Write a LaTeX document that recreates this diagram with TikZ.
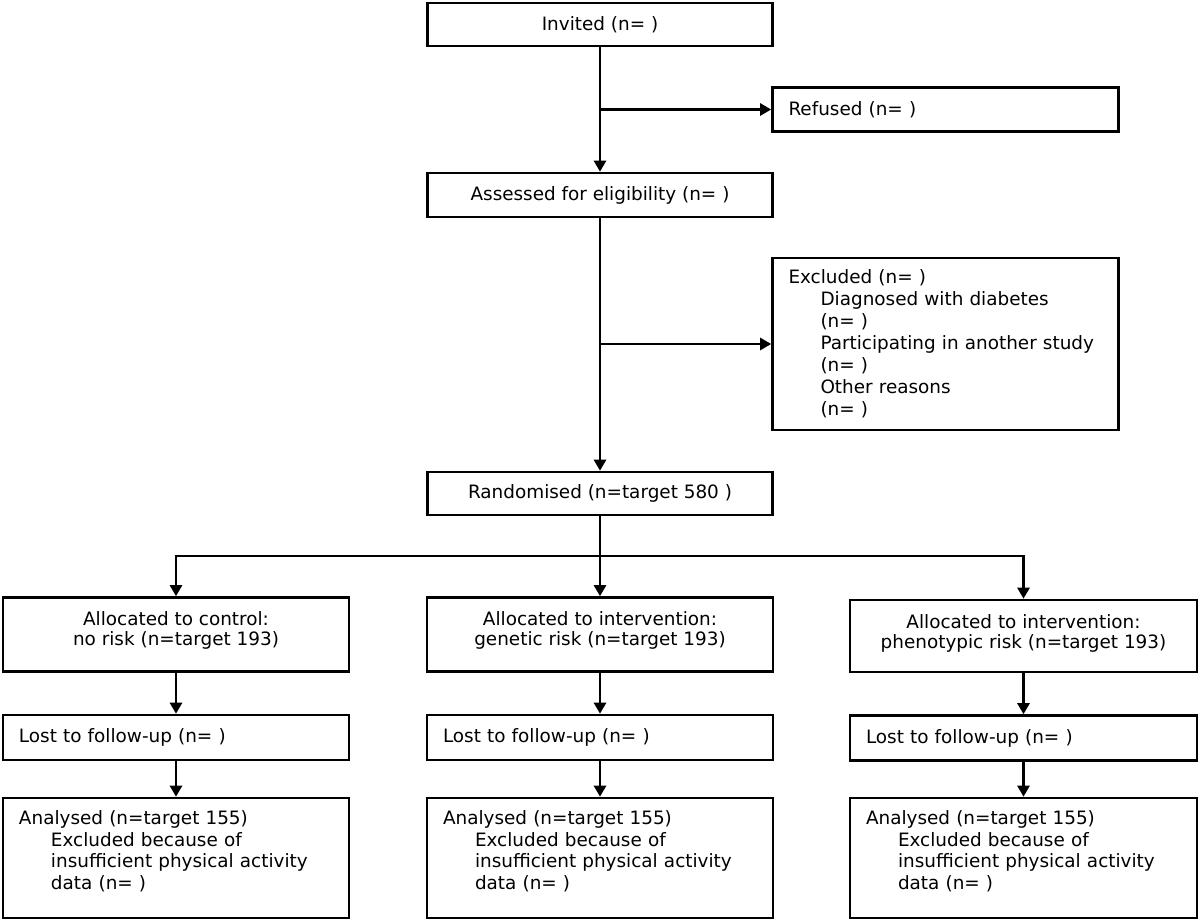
\documentclass[tikz,border=0pt]{standalone}
\usepackage{fontspec}
\setmainfont{DejaVu Sans}
\usetikzlibrary{arrows.meta}
\begin{document}
\begin{tikzpicture}[x=1pt,y=-1pt,
  box/.style={draw, line width=2.6pt, inner sep=0pt, align=center,
    font=\fontsize{18.4pt}{21.5pt}\selectfont},
  lbox/.style={box, align=left},
  conn/.style={line width=2.6pt, -{Triangle[length=11pt,width=12pt]}},
  seg/.style={line width=2.6pt}]
\useasboundingbox (0,0) rectangle (1200,921);
\newcommand{\ind}{\hspace*{32pt}}
% top column
\node[box, minimum width=345pt, minimum height=43pt] (inv) at (600,24.5) {Invited (n= )};
\node[lbox, minimum width=346pt, minimum height=44pt, text width=314pt] (ref) at (945.5,109.5) {Refused (n= )};
\node[box, minimum width=345pt, minimum height=44pt] (ass) at (600,195) {Assessed for eligibility (n= )};
\node[lbox, minimum width=346pt, minimum height=172pt, text width=314pt,
  font=\fontsize{18.4pt}{22pt}\selectfont] (exc) at (945.5,344)
  {Excluded (n= )\\ \ind Diagnosed with diabetes\\ \ind (n= )\\ \ind Participating in another study\\ \ind (n= )\\ \ind Other reasons\\ \ind (n= )};
\node[box, minimum width=345pt, minimum height=43pt] (ran) at (600,493.5) {Randomised (n=target 580 )};
% allocation
\tikzset{abox/.style={box, font=\fontsize{18.4pt}{20pt}\selectfont}}
\node[abox, minimum width=346pt, minimum height=74pt] (al1) at (176,634.5) {Allocated to control:\\ no risk (n=target 193)\\[-8pt]\mbox{}};
\node[abox, minimum width=346pt, minimum height=74pt] (al2) at (600,634.5) {Allocated to intervention:\\ genetic risk (n=target 193)\\[-8pt]\mbox{}};
\node[abox, minimum width=347pt, minimum height=72pt] (al3) at (1023.5,636) {Allocated to intervention:\\ phenotypic risk (n=target 193)\\[-12pt]\mbox{}};
% lost
\node[lbox, minimum width=346pt, minimum height=45pt, text width=314pt] (lo1) at (176,737.5) {Lost to follow-up (n= )};
\node[lbox, minimum width=346pt, minimum height=45pt, text width=314pt] (lo2) at (600,737.5) {Lost to follow-up (n= )};
\node[lbox, minimum width=347pt, minimum height=45pt, text width=315pt] (lo3) at (1023.5,738) {Lost to follow-up (n= )};
% analysed
\node[lbox, minimum width=346pt, minimum height=120pt, text width=314pt] (an1) at (176,858)
  {Analysed (n=target 155)\\ \ind Excluded because of\\ \ind insufficient physical activity\\ \ind data (n= )\\[-6pt]\mbox{}};
\node[lbox, minimum width=346pt, minimum height=120pt, text width=314pt] (an2) at (600,858)
  {Analysed (n=target 155)\\ \ind Excluded because of\\ \ind insufficient physical activity\\ \ind data (n= )\\[-6pt]\mbox{}};
\node[lbox, minimum width=347pt, minimum height=120pt, text width=315pt] (an3) at (1023.5,858)
  {Analysed (n=target 155)\\ \ind Excluded because of\\ \ind insufficient physical activity\\ \ind data (n= )\\[-6pt]\mbox{}};
% connectors
\coordinate (lvl) at (0,556);
\coordinate (b1) at (ass.north |- ref.west);
\coordinate (b2) at (ass.south |- exc.west);
\coordinate (split) at (ran.south |- lvl);
\coordinate (sl) at (al1.north |- lvl);
\coordinate (sr) at (al3.north |- lvl);
\draw[conn] (inv.south) -- (ass.north);
\draw[conn] (b1) -- (ref.west);
\draw[conn] (ass.south) -- (ran.north);
\draw[conn] (b2) -- (exc.west);
\draw[seg] (ran.south) -- (split);
\draw[seg] ([xshift=-1.3pt]sl) -- ([xshift=1.3pt]sr);
\draw[conn] (sl) -- (al1.north);
\draw[conn] (split) -- (al2.north);
\draw[conn] (sr) -- (al3.north);
\draw[conn] (al1.south) -- (lo1.north);
\draw[conn] (al2.south) -- (lo2.north);
\draw[conn] (al3.south) -- (lo3.north);
\draw[conn] (lo1.south) -- (an1.north);
\draw[conn] (lo2.south) -- (an2.north);
\draw[conn] (lo3.south) -- (an3.north);
\end{tikzpicture}
\end{document}
